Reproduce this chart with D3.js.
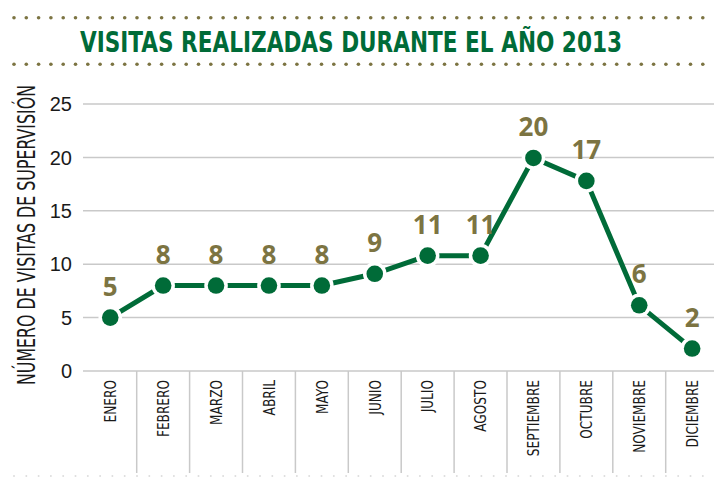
<!DOCTYPE html>
<html lang="es">
<head>
    <meta charset="utf-8">
    <title>Visitas realizadas durante el año 2013</title>
    <style>
        body {
            margin: 0;
            background: #fff;
        }

        svg {
            display: block;
        }

        .narrow {
            font-family: "Liberation Sans Narrow", "DejaVu Sans Condensed", "Roboto Condensed", sans-serif;
        }
    </style>
</head>
<body>
<svg id="chart" width="714" height="478"></svg>
<script src="https://cdn.jsdelivr.net/npm/d3@7"></script>
<script>
    const title = "VISITAS REALIZADAS DURANTE EL AÑO 2013";
    const yTitle = "NÚMERO DE VISITAS DE SUPERVISIÓN";
    const months = ["ENERO", "FEBRERO", "MARZO", "ABRIL", "MAYO", "JUNIO",
        "JULIO", "AGOSTO", "SEPTIEMBRE", "OCTUBRE", "NOVIEMBRE", "DICIEMBRE"];
    // plotted positions as drawn in the picture
    const visits = [5, 8, 8, 8, 8, 9.1, 10.8, 10.8, 19.95, 17.8, 6.15, 2.1];
    // labels as printed
    const visitLabels = ["5", "8", "8", "8", "8", "9", "11", "11", "20", "17", "6", "2"];
    const yTicks = [0, 5, 10, 15, 20, 25];

    const green = "#006b38";
    const olive = "#7c7442";
    const grid = "#c9c9c9";

    const svg = d3.select("#chart");
    const W = +svg.attr("width");

    const x = d3.scaleBand().domain(months).range([83.8, 718.6]);
    const y = d3.scaleLinear().domain([0, 25]).range([371, 104]);

    // dotted rules round the title
    const dotX = d3.range(14, W, 12.3);
    [17.7, 64.3, 476].forEach((dy, i) => {
        svg.append("g").selectAll("circle")
            .data(dotX)
            .join("circle")
            .attr("cx", d => d)
            .attr("cy", dy)
            .attr("r", i < 2 ? 1.8 : 1)
            .attr("fill", i < 2 ? olive : "#ddd");
    });

    svg.append("text")
        .attr("class", "narrow")
        .attr("x", 80)
        .attr("y", 51.5)
        .attr("fill", green)
        .attr("font-size", 28)
        .attr("font-weight", "bold")
        .attr("textLength", 542)
        .attr("lengthAdjust", "spacingAndGlyphs")
        .text(title);

    // horizontal grid + tick labels
    svg.append("g").selectAll("line")
        .data(yTicks)
        .join("line")
        .attr("x1", 83).attr("x2", W)
        .attr("y1", d => y(d)).attr("y2", d => y(d))
        .attr("stroke", grid)
        .attr("stroke-width", 1.5);

    svg.append("g").selectAll("text")
        .data(yTicks)
        .join("text")
        .attr("x", 72)
        .attr("y", d => y(d))
        .attr("dy", "0.36em")
        .attr("text-anchor", "end")
        .attr("font-family", "'Liberation Sans', 'DejaVu Sans', sans-serif")
        .attr("font-size", 20)
        .attr("fill", "#1a1a1a")
        .text(d => d);

    svg.append("text")
        .attr("class", "narrow")
        .attr("transform", `translate(35,235) rotate(-90)`)
        .attr("text-anchor", "middle")
        .attr("font-size", 25)
        .attr("fill", "#1a1a1a")
        .attr("textLength", 300)
        .attr("lengthAdjust", "spacingAndGlyphs")
        .text(yTitle);

    // category dividers
    svg.append("g").selectAll("line")
        .data(months.slice(1))
        .join("line")
        .attr("x1", d => x(d)).attr("x2", d => x(d))
        .attr("y1", 371).attr("y2", 473)
        .attr("stroke", grid)
        .attr("stroke-width", 1.5);

    svg.append("g").selectAll("text")
        .data(months)
        .join("text")
        .attr("class", "narrow")
        .attr("transform", d => `translate(${x(d) + x.bandwidth() / 2},380) rotate(-90) scale(0.9,1.1)`)
        .attr("dy", "0.35em")
        .attr("text-anchor", "end")
        .attr("font-size", 15)
        .attr("fill", "#1a1a1a")
        .text(d => d);

    // series
    const pts = months.map((m, i) => [x(m) + x.bandwidth() / 2, y(visits[i])]);

    svg.append("path")
        .datum(pts)
        .attr("d", d3.line())
        .attr("fill", "none")
        .attr("stroke", green)
        .attr("stroke-width", 5);

    svg.append("g").selectAll("circle")
        .data(pts)
        .join("circle")
        .attr("cx", d => d[0])
        .attr("cy", d => d[1])
        .attr("r", 8.3)
        .attr("fill", green)
        .attr("stroke", "#fff")
        .attr("stroke-width", 7)
        .attr("paint-order", "stroke");

    svg.append("g").selectAll("text")
        .data(pts)
        .join("text")
        .attr("x", d => d[0])
        .attr("y", d => d[1] - 22)
        .attr("text-anchor", "middle")
        .attr("font-family", "'Open Sans', 'Noto Sans', sans-serif")
        .attr("font-size", 26)
        .attr("font-weight", "bold")
        .attr("fill", olive)
        .text((d, i) => visitLabels[i]);
</script>
</body>
</html>
